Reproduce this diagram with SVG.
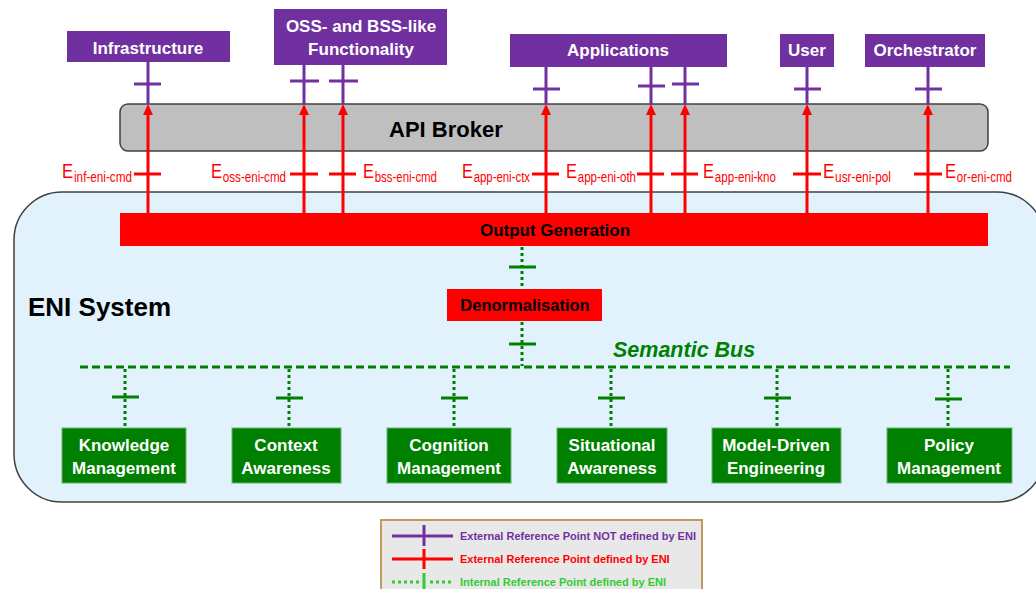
<svg xmlns="http://www.w3.org/2000/svg" width="1036" height="589" viewBox="0 0 1036 589">
  <style>
    text { font-family: "Liberation Sans", Arial, sans-serif; }
    .ext { fill: #7030A0; }
    .ext-txt { fill: #FFFFFF; font-weight: bold; font-size: 17px; text-anchor: middle; }
    .mod { fill: #008000; stroke: #6FAF6F; stroke-width: 1; }
    .mod-txt { fill: #FFFFFF; font-weight: bold; font-size: 17px; text-anchor: middle; }
    .redbox { fill: #FF0000; }
    .redbox-txt { fill: #000000; font-weight: bold; text-anchor: middle; }
    .pline { stroke: #7030A0; stroke-width: 3; fill: none; }
    .rline { stroke: #FF0000; stroke-width: 3; fill: none; }
    .gdot { stroke: #008000; stroke-width: 3; stroke-dasharray: 3 3; fill: none; }
    .gbar { stroke: #008000; stroke-width: 3; fill: none; }
    .bus { stroke: #008000; stroke-width: 3; stroke-dasharray: 8 4; fill: none; }
    .elabel { fill: #FF0000; font-size: 20px; }
    .elabel tspan { font-size: 14px; }
    .legend-txt { font-weight: bold; font-size: 11px; }
  </style>
  <defs>
    <marker id="arrowRed" viewBox="0 0 11 10" markerWidth="11" markerHeight="10" refX="4" refY="5" markerUnits="userSpaceOnUse" orient="auto">
      <path d="M0,0 L11,5 L0,10 z" fill="#FF0000"/>
    </marker>
  </defs>

  <!-- ENI System container -->
  <g id="eni-system">
    <rect x="14" y="192" width="1031" height="310" rx="48" ry="48" fill="#E1F2FD" stroke="#404040" stroke-width="1.5"/>
    <text x="28" y="316" font-size="26" font-weight="bold" fill="#000000">ENI System</text>
  </g>

  <!-- API Broker -->
  <g id="api-broker">
    <rect x="120" y="104" width="868" height="47" rx="8" ry="8" fill="#BFBFBF" stroke="#404040" stroke-width="1.5"/>
    <text x="389" y="137" font-size="22" font-weight="bold" fill="#000000">API Broker</text>
  </g>

  <!-- Connectors -->
  <g id="connectors">
    <!-- external reference points not defined by ENI (purple) -->
    <line class="pline" x1="148" y1="62" x2="148" y2="104"/>
    <line class="pline" x1="134" y1="84" x2="161" y2="84"/>
    <line class="pline" x1="304" y1="65" x2="304" y2="104"/>
    <line class="pline" x1="290" y1="81" x2="319" y2="81"/>
    <line class="pline" x1="343" y1="65" x2="343" y2="104"/>
    <line class="pline" x1="329" y1="81" x2="358" y2="81"/>
    <line class="pline" x1="546" y1="67" x2="546" y2="104"/>
    <line class="pline" x1="533" y1="89" x2="560" y2="89"/>
    <line class="pline" x1="651" y1="67" x2="651" y2="104"/>
    <line class="pline" x1="638" y1="86" x2="665" y2="86"/>
    <line class="pline" x1="685" y1="67" x2="685" y2="104"/>
    <line class="pline" x1="672" y1="84" x2="699" y2="84"/>
    <line class="pline" x1="807" y1="67" x2="807" y2="104"/>
    <line class="pline" x1="794" y1="89" x2="821" y2="89"/>
    <line class="pline" x1="928" y1="67" x2="928" y2="104"/>
    <line class="pline" x1="915" y1="89" x2="942" y2="89"/>

    <!-- external reference points defined by ENI (red) -->
    <line class="rline" x1="148" y1="213" x2="148" y2="111" marker-end="url(#arrowRed)"/>
    <line class="rline" x1="134" y1="174" x2="161" y2="174"/>
    <line class="rline" x1="304" y1="213" x2="304" y2="111" marker-end="url(#arrowRed)"/>
    <line class="rline" x1="290" y1="174" x2="318" y2="174"/>
    <line class="rline" x1="343" y1="213" x2="343" y2="111" marker-end="url(#arrowRed)"/>
    <line class="rline" x1="329" y1="174" x2="356" y2="174"/>
    <line class="rline" x1="546" y1="213" x2="546" y2="111" marker-end="url(#arrowRed)"/>
    <line class="rline" x1="532" y1="174" x2="559" y2="174"/>
    <line class="rline" x1="651" y1="213" x2="651" y2="111" marker-end="url(#arrowRed)"/>
    <line class="rline" x1="637" y1="174" x2="664" y2="174"/>
    <line class="rline" x1="685" y1="213" x2="685" y2="111" marker-end="url(#arrowRed)"/>
    <line class="rline" x1="671" y1="174" x2="698" y2="174"/>
    <line class="rline" x1="807" y1="213" x2="807" y2="111" marker-end="url(#arrowRed)"/>
    <line class="rline" x1="793" y1="174" x2="821" y2="174"/>
    <line class="rline" x1="928" y1="213" x2="928" y2="111" marker-end="url(#arrowRed)"/>
    <line class="rline" x1="914" y1="174" x2="942" y2="174"/>

    <!-- reference point labels: E with subscript, condensed to fit -->
    <text class="elabel" x="62" y="178" textLength="70" lengthAdjust="spacingAndGlyphs">E<tspan dx="1" dy="4">inf-eni-cmd</tspan></text>
    <text class="elabel" x="211" y="178" textLength="75" lengthAdjust="spacingAndGlyphs">E<tspan dx="1" dy="4">oss-eni-cmd</tspan></text>
    <text class="elabel" x="363" y="178" textLength="74" lengthAdjust="spacingAndGlyphs">E<tspan dx="1" dy="4">bss-eni-cmd</tspan></text>
    <text class="elabel" x="462" y="178" textLength="68" lengthAdjust="spacingAndGlyphs">E<tspan dx="1" dy="4">app-eni-ctx</tspan></text>
    <text class="elabel" x="566" y="178" textLength="70" lengthAdjust="spacingAndGlyphs">E<tspan dx="1" dy="4">app-eni-oth</tspan></text>
    <text class="elabel" x="703" y="178" textLength="73" lengthAdjust="spacingAndGlyphs">E<tspan dx="1" dy="4">app-eni-kno</tspan></text>
    <text class="elabel" x="823" y="178" textLength="68" lengthAdjust="spacingAndGlyphs">E<tspan dx="1" dy="4">usr-eni-pol</tspan></text>
    <text class="elabel" x="945" y="178" textLength="67" lengthAdjust="spacingAndGlyphs">E<tspan dx="1" dy="4">or-eni-cmd</tspan></text>

    <!-- internal reference points (green) -->
    <line class="gdot" x1="522" y1="247" x2="522" y2="289"/>
    <line class="gbar" x1="509" y1="267" x2="536" y2="267"/>
    <line class="gdot" x1="522" y1="322" x2="522" y2="366"/>
    <line class="gbar" x1="509" y1="344" x2="536" y2="344"/>

    <line class="bus" x1="80" y1="367" x2="1010" y2="367"/>

    <line class="gdot" x1="125" y1="369" x2="125" y2="428"/>
    <line class="gbar" x1="112" y1="397" x2="139" y2="397"/>
    <line class="gdot" x1="289" y1="369" x2="289" y2="428"/>
    <line class="gbar" x1="276" y1="398" x2="303" y2="398"/>
    <line class="gdot" x1="454" y1="369" x2="454" y2="428"/>
    <line class="gbar" x1="441" y1="398" x2="468" y2="398"/>
    <line class="gdot" x1="611" y1="369" x2="611" y2="428"/>
    <line class="gbar" x1="598" y1="398" x2="625" y2="398"/>
    <line class="gdot" x1="777" y1="369" x2="777" y2="428"/>
    <line class="gbar" x1="764" y1="398" x2="791" y2="398"/>
    <line class="gdot" x1="948" y1="369" x2="948" y2="428"/>
    <line class="gbar" x1="935" y1="399" x2="962" y2="399"/>

    <text x="613" y="357" font-size="21.5" font-weight="bold" font-style="italic" fill="#008000">Semantic Bus</text>
  </g>

  <!-- External systems -->
  <g id="infrastructure">
    <rect class="ext" x="67" y="31" width="163" height="31"/>
    <text class="ext-txt" x="148" y="54">Infrastructure</text>
  </g>
  <g id="oss-bss">
    <rect class="ext" x="274" y="9" width="173" height="56"/>
    <text class="ext-txt" x="361" y="32">OSS- and BSS-like</text>
    <text class="ext-txt" x="361" y="55">Functionality</text>
  </g>
  <g id="applications">
    <rect class="ext" x="510" y="34" width="217" height="33"/>
    <text class="ext-txt" x="618" y="56">Applications</text>
  </g>
  <g id="user">
    <rect class="ext" x="780" y="34" width="54" height="33"/>
    <text class="ext-txt" x="807" y="56">User</text>
  </g>
  <g id="orchestrator">
    <rect class="ext" x="865" y="34" width="120" height="33"/>
    <text class="ext-txt" x="925" y="56">Orchestrator</text>
  </g>

  <!-- ENI internal functions -->
  <g id="output-generation">
    <rect class="redbox" x="120" y="213" width="868" height="33"/>
    <text class="redbox-txt" x="555" y="236" font-size="17">Output Generation</text>
  </g>
  <g id="denormalisation">
    <rect class="redbox" x="447" y="289" width="155" height="32"/>
    <text class="redbox-txt" x="525" y="311" font-size="16.5">Denormalisation</text>
  </g>

  <g id="knowledge-management">
    <rect class="mod" x="62" y="428" width="124" height="55"/>
    <text class="mod-txt" x="124" y="451">Knowledge</text>
    <text class="mod-txt" x="124" y="474">Management</text>
  </g>
  <g id="context-awareness">
    <rect class="mod" x="232" y="428" width="109" height="55"/>
    <text class="mod-txt" x="286" y="451">Context</text>
    <text class="mod-txt" x="286" y="474">Awareness</text>
  </g>
  <g id="cognition-management">
    <rect class="mod" x="387" y="428" width="124" height="55"/>
    <text class="mod-txt" x="449" y="451">Cognition</text>
    <text class="mod-txt" x="449" y="474">Management</text>
  </g>
  <g id="situational-awareness">
    <rect class="mod" x="557" y="428" width="110" height="55"/>
    <text class="mod-txt" x="612" y="451">Situational</text>
    <text class="mod-txt" x="612" y="474">Awareness</text>
  </g>
  <g id="model-driven-engineering">
    <rect class="mod" x="712" y="428" width="129" height="55"/>
    <text class="mod-txt" x="776" y="451">Model-Driven</text>
    <text class="mod-txt" x="776" y="474">Engineering</text>
  </g>
  <g id="policy-management">
    <rect class="mod" x="887" y="428" width="125" height="55"/>
    <text class="mod-txt" x="949" y="451">Policy</text>
    <text class="mod-txt" x="949" y="474">Management</text>
  </g>

  <!-- Legend -->
  <g id="legend">
    <rect x="381" y="520" width="321" height="80" fill="#E8E8E8" stroke="#C49A5A" stroke-width="2"/>
    <line class="pline" x1="392" y1="536" x2="453" y2="536"/>
    <line class="pline" x1="424" y1="525" x2="424" y2="546"/>
    <text class="legend-txt" x="460" y="540" fill="#7030A0">External Reference Point NOT defined by ENI</text>
    <line class="rline" x1="392" y1="559" x2="453" y2="559"/>
    <line class="rline" x1="424" y1="549" x2="424" y2="569"/>
    <text class="legend-txt" x="460" y="563" fill="#FF0000">External Reference Point defined by ENI</text>
    <line x1="392" y1="582" x2="420" y2="582" stroke="#33CC33" stroke-width="3" stroke-dasharray="3 3"/>
    <line x1="430" y1="582" x2="453" y2="582" stroke="#33CC33" stroke-width="3" stroke-dasharray="3 3"/>
    <line x1="424" y1="573" x2="424" y2="592" stroke="#33CC33" stroke-width="3"/>
    <text class="legend-txt" x="460" y="586" fill="#33CC33">Internal Reference Point defined by ENI</text>
  </g>
</svg>
